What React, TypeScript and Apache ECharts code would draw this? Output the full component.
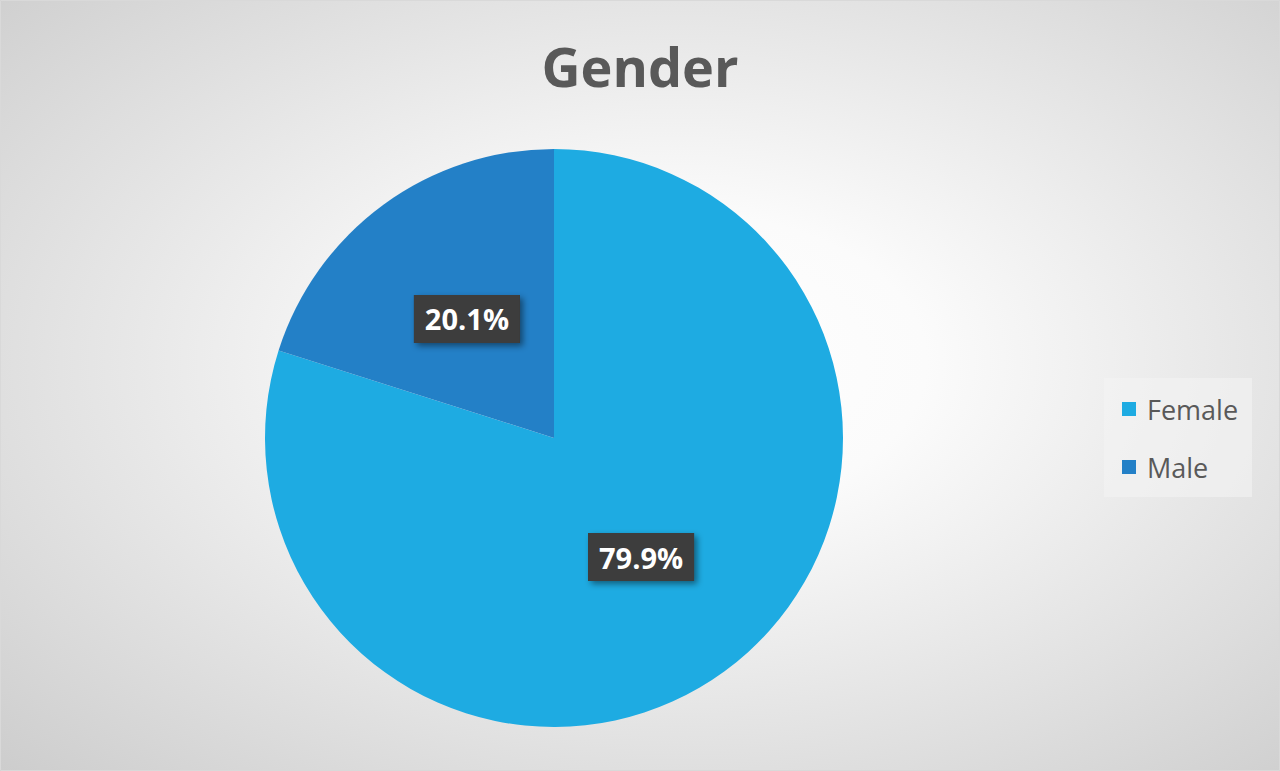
import { useEffect, useRef } from 'react';
import * as echarts from 'echarts';

const categories = ['Female', 'Male'];
const shares = [79.9, 20.1];
const sliceColors = ['#1eabe2', '#2380c7'];

const App = () => {
  const chartRef = useRef<HTMLDivElement>(null);

  useEffect(() => {
    document.body.style.margin = '0';
    if (!chartRef.current) return;
    const chart = echarts.init(chartRef.current, null, { renderer: 'svg' });

    const option = {
      animation: false,
      backgroundColor: {
        type: 'radial',
        x: 0.53,
        y: 0.47,
        r: 0.88,
        colorStops: [
          { offset: 0, color: '#ffffff' },
          { offset: 0.22, color: '#fbfbfb' },
          { offset: 1, color: '#c2c2c2' },
        ],
      },
      title: {
        text: 'Gender',
        left: 'center',
        top: 34,
        textStyle: {
          fontFamily: 'Open Sans',
          fontWeight: 'bold',
          fontSize: 54,
          color: '#595959',
        },
      },
      legend: {
        orient: 'vertical',
        left: 1104,
        top: 378,
        padding: [16, 14, 15, 18],
        itemGap: 28,
        itemWidth: 14,
        itemHeight: 14,
        icon: 'rect',
        backgroundColor: 'rgba(244,244,244,0.6)',
        textStyle: {
          fontFamily: 'Open Sans',
          fontSize: 27,
          color: '#595959',
          lineHeight: 30,
          padding: [0, 0, 0, 6],
        },
        data: categories,
      },
      series: [
        {
          type: 'pie',
          center: [554, 438],
          radius: 289,
          startAngle: 90,
          clockwise: true,
          percentPrecision: 1,
          data: categories.map((name, i) => ({
            name,
            value: shares[i],
            itemStyle: { color: sliceColors[i] },
          })),
          label: {
            show: true,
            position: 'inside',
            formatter: '{d}%',
            fontFamily: 'Open Sans',
            fontWeight: 'bold',
            fontSize: 29,
            color: '#ffffff',
            backgroundColor: '#3c3c3c',
            padding: [10, 11, 9, 11],
            shadowColor: 'rgba(0,0,0,0.45)',
            shadowBlur: 6,
            shadowOffsetX: 3,
            shadowOffsetY: 3,
          },
          labelLine: { show: false },
          emphasis: { disabled: true },
        },
      ],
      graphic: [
        {
          type: 'rect',
          shape: { x: 0.5, y: 0.5, width: 1279, height: 770 },
          style: { fill: 'none', stroke: '#d9d9d9', lineWidth: 1 },
          silent: true,
        },
      ],
    };

    chart.setOption(option);
    return () => {
      chart.dispose();
    };
  }, []);

  return <div ref={chartRef} style={{ width: 1280, height: 771 }} />;
};

export default App;
